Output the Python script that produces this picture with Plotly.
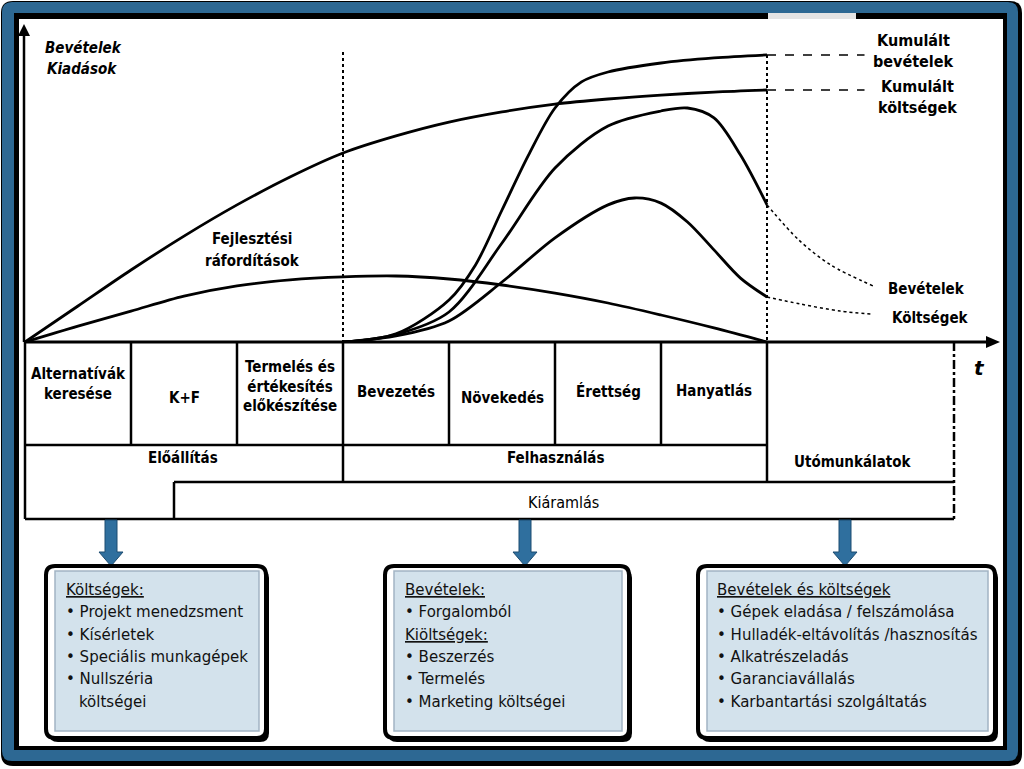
import plotly.graph_objects as go

W, H = 1024, 769

# ---------------- data ----------------
# time in phase units (one phase = one column of the table), amount in arbitrary units
t_dev = [0, 0.5, 1, 1.5, 2, 2.5, 3, 3.5, 4, 4.5, 5, 5.5, 6, 6.5, 7]
v_dev = [0, 5.3, 10.3, 15.3, 18.7, 20.7, 21.7, 22, 21, 19, 16.3, 13, 9, 4.7, 0]

t_cumcost = [0, 0.5, 1, 1.5, 2, 2.5, 3, 3.5, 4, 4.5, 5, 5.5, 6, 6.5, 7]
v_cumcost = [0, 12, 24, 35.3, 45.7, 55, 63, 68.7, 73.3, 76.7, 79.3, 81, 82.3, 83.3, 84]
t_cumcost_ext = [7, 7.92]
v_cumcost_ext = [84, 84]

t_cumrev = [3, 3.5, 4, 4.25, 4.5, 4.75, 5, 5.25, 5.5, 6, 6.5, 7]
v_cumrev = [0, 2.7, 14, 25.7, 44, 62.3, 78, 86.7, 90, 93, 94.7, 95.7]
t_cumrev_ext = [7, 7.92]
v_cumrev_ext = [95.7, 95.7]

t_rev = [3, 3.5, 4, 4.5, 5, 5.5, 6, 6.25, 6.5, 6.75, 7]
v_rev = [0, 2.5, 10, 33, 58, 72, 77, 78, 74.7, 62.3, 45.7]
t_rev_ext = [7, 7.3, 7.6, 8.0]
v_rev_ext = [45.7, 34, 25.7, 18.7]

t_cost = [3, 3.5, 4, 4.5, 5, 5.5, 5.75, 6, 6.25, 6.5, 6.75, 7]
v_cost = [0, 2, 7, 20, 34.7, 45.7, 48, 46.3, 40, 30.7, 21.3, 15]
t_cost_ext = [7, 7.31, 7.69, 8.0]
v_cost_ext = [15, 12.7, 10.3, 9.3]

phases = ["Alternatívák<br>keresése", "K+F", "Termelés és<br>értékesítés<br>előkészítése",
          "Bevezetés", "Növekedés", "Érettség", "Hanyatlás"]
stages = ["Előállítás", "Felhasználás", "Utómunkálatok"]
outflow = "Kiáramlás"

box1_lines = ["<u>Költségek:</u>", "• Projekt menedzsment", "• Kísérletek",
              "• Speciális munkagépek", "• Nullszéria", "költségei"]
box2_lines = ["<u>Bevételek:</u>", "• Forgalomból", "<u>Kiöltségek:</u>", "• Beszerzés",
              "• Termelés", "• Marketing költségei"]
box3_lines = ["<u>Bevételek és költségek</u>", "• Gépek eladása / felszámolása",
              "• Hulladék-eltávolítás /hasznosítás", "• Alkatrészeladás",
              "• Garanciavállalás", "• Karbantartási szolgáltatás"]

# ---------------- layout constants (pixels) ----------------
X0, PW = 25, 106          # chart origin x, phase width
Y0, VS = 342, 3.0         # chart baseline y, pixels per value unit
BOLD = "DejaVu Sans Condensed, Liberation Sans Narrow, DejaVu Sans, sans-serif"
REG = "DejaVu Sans Condensed, DejaVu Sans, sans-serif"
BLUE = "#2d6893"

fig = go.Figure()
shapes = []
ann = []


def rrect(x0, y0, x1, y1, r):
    return (f"M{x0+r},{y0} L{x1-r},{y0} Q{x1},{y0} {x1},{y0+r} L{x1},{y1-r} "
            f"Q{x1},{y1} {x1-r},{y1} L{x0+r},{y1} Q{x0},{y1} {x0},{y1-r} "
            f"L{x0},{y0+r} Q{x0},{y0} {x0+r},{y0} Z")


def path(p, fill=None, color=None, width=0, layer="below"):
    shapes.append(dict(type="path", path=p, xref="x", yref="y", layer=layer,
                       fillcolor=fill if fill else "rgba(0,0,0,0)",
                       line=dict(color=color if color else "rgba(0,0,0,0)", width=width)))


def rect(x0, y0, x1, y1, fill=None, color=None, width=0, layer="below"):
    shapes.append(dict(type="rect", x0=x0, y0=y0, x1=x1, y1=y1, xref="x", yref="y", layer=layer,
                       fillcolor=fill if fill else "rgba(0,0,0,0)",
                       line=dict(color=color if color else "rgba(0,0,0,0)", width=width)))


def line(x0, y0, x1, y1, width=2.5, dash="solid", color="black", layer="below"):
    shapes.append(dict(type="line", x0=x0, y0=y0, x1=x1, y1=y1, xref="x", yref="y", layer=layer,
                       line=dict(color=color, width=width, dash=dash)))


def text(x, y, s, size=14, font=BOLD, weight="normal", style="normal", xanchor="center", color="black"):
    ann.append(dict(x=x, y=y, xref="x", yref="y", text=s, showarrow=False, xanchor=xanchor,
                    yanchor="middle", align="center" if xanchor == "center" else "left",
                    font=dict(family=font, size=size, color=color, weight=weight, style=style)))


# ---------------- outer frame ----------------
path(rrect(1, 1, 1022, 766, 12), fill="black")
path(rrect(2, 2, 1018, 761, 10), fill=BLUE)
rect(14, 13, 1007, 750, fill="black")
rect(19, 19, 1003, 746, fill="white")
rect(768, 13, 856, 19, fill="#e4e4e4")

# ---------------- axes ----------------
line(24, Y0, 24, 32, width=2.5)
path("M18,36 L30,36 L24,24 Z", fill="black")
line(X0, Y0, 988, Y0, width=3)
path("M986,336 L986,348 L1000,342 Z", fill="black")

# dotted separators in chart
line(X0 + 3 * PW, 52, X0 + 3 * PW, Y0, width=2, dash="dot")
line(X0 + 7 * PW, 55, X0 + 7 * PW, Y0, width=2, dash="dot")

# ---------------- phase table ----------------
for i in range(8):
    xx = X0 + i * PW
    if i == 0:
        line(xx, Y0, xx, 519)
    elif i in (3, 7):
        line(xx, Y0, xx, 482)
    else:
        line(xx, Y0, xx, 445)
line(X0, 445, X0 + 7 * PW, 445)
line(174, 482, 954, 482)
line(174, 482, 174, 519)
line(X0, 519, 954, 519)
line(954, Y0, 954, 519, dash="dashdot")

phase_y = [384, 398, 386, 392, 398, 391, 391]
for i, p in enumerate(phases):
    text(X0 + (i + 0.5) * PW, phase_y[i], p, size=15, weight="bold")
text(183, 458, stages[0], size=15, weight="bold")
text(555, 458, stages[1], size=15, weight="bold")
text(852, 462, stages[2], size=15, weight="bold")
text(563, 502, outflow, size=16, font=REG)
text(979, 368, "t", size=20, weight="bold", style="italic", font="DejaVu Sans, sans-serif")

# ---------------- arrows + bottom boxes ----------------
for cx in (111, 525, 845):
    path(f"M{cx-6},520 L{cx+6},520 L{cx+6},552 L{cx+12},552 L{cx},566 L{cx-12},552 L{cx-6},552 Z",
         fill="#2f6f9e", color="#1d4c70", width=1)

boxes = [(46, 266, box1_lines, 64), (385, 629, box2_lines, 403), (698, 995, box3_lines, 715)]
for bx0, bx1, lines_, tx in boxes:
    path(rrect(bx0 + 3, 569, bx1 + 3, 742, 9), fill="black")
    path(rrect(bx0, 566, bx1, 738, 9), fill="white", color="black", width=4)
    rect(bx0 + 9, 571, bx1 - 7, 731, fill="#d3e2ec", color="#a2b4c3", width=1.5)
    for k, s in enumerate(lines_):
        xx = tx + (13 if (lines_ is box1_lines and k == 5) else 0)
        text(xx, 589 + k * 22.3, s, size=16.7, font=REG, xanchor="left", color="#111111")

# ---------------- chart labels ----------------
text(43, 48, "Bevételek", size=15, weight="bold", style="italic", xanchor="left")
text(45, 69, "Kiadások", size=15, weight="bold", style="italic", xanchor="left")
text(252, 239, "Fejlesztési", size=15, weight="bold")
text(252, 261, "ráfordítások", size=15, weight="bold")
text(913, 40, "Kumulált", size=16, weight="bold")
text(913, 61, "bevételek", size=16, weight="bold")
text(917, 86, "Kumulált", size=16, weight="bold")
text(917, 107, "költségek", size=16, weight="bold")
text(926, 289, "Bevételek", size=15, weight="bold")
text(930, 318, "Költségek", size=15, weight="bold")

# ---------------- curves (chart axes) ----------------
def curve(t, v, width=2.8, dash="solid", smooth=0.9):
    fig.add_trace(go.Scatter(x=t, y=v, xaxis="x2", yaxis="y2", mode="lines",
                             line=dict(color="black", width=width, dash=dash, shape="spline",
                                       smoothing=smooth),
                             hoverinfo="skip", showlegend=False))


curve(t_dev, v_dev)
curve(t_cumcost, v_cumcost)
curve(t_cumrev, v_cumrev)
curve(t_rev, v_rev)
curve(t_cost, v_cost)
curve(t_cumcost_ext, v_cumcost_ext, width=1.5, dash="dash")
curve(t_cumrev_ext, v_cumrev_ext, width=1.5, dash="dash")
curve(t_rev_ext, v_rev_ext, width=1.5, dash="dot")
curve(t_cost_ext, v_cost_ext, width=1.5, dash="dot")

chart_left, chart_right, chart_top = X0, 995, 20
fig.update_layout(
    width=W, height=H, margin=dict(l=0, r=0, t=0, b=0),
    paper_bgcolor="white", plot_bgcolor="rgba(0,0,0,0)",
    showlegend=False,
    xaxis=dict(range=[0, W], domain=[0, 1], visible=False, fixedrange=True),
    yaxis=dict(range=[H, 0], domain=[0, 1], visible=False, fixedrange=True),
    xaxis2=dict(range=[0, (chart_right - chart_left) / PW],
                domain=[chart_left / W, chart_right / W], anchor="y2", visible=False),
    yaxis2=dict(range=[0, (Y0 - chart_top) / VS],
                domain=[(H - Y0) / H, (H - chart_top) / H], anchor="x2", visible=False),
    shapes=shapes, annotations=ann,
)
# dummy trace so the pixel axes exist
fig.add_trace(go.Scatter(x=[0], y=[0], xaxis="x", yaxis="y", mode="markers",
                         marker=dict(opacity=0), hoverinfo="skip", showlegend=False))

fig.write_html("out.html", config={"displayModeBar": False},
               post_script="document.body.style.margin='0';document.body.style.overflow='hidden';")
